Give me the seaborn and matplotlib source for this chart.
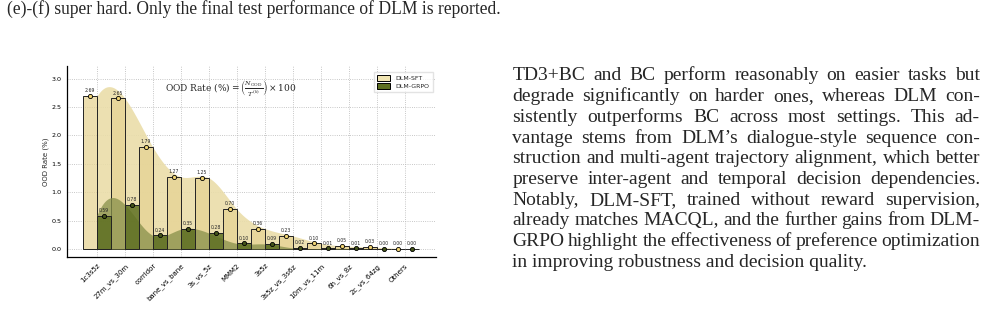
import numpy as np
import pandas as pd
import seaborn as sns
import matplotlib.pyplot as plt
from matplotlib.patches import Patch

tasks = ['1c3s5z', '27m_vs_30m', 'corridor', 'bane_vs_bane', '3s_vs_5z', 'MMM2',
         '3s5z', '3s5z_vs_3s6z', '10m_vs_11m', '6h_vs_8z', '2c_vs_64zg', 'Others']
sft = [2.69, 2.65, 1.79, 1.27, 1.25, 0.70, 0.36, 0.23, 0.10, 0.05, 0.03, 0.00]
grpo = [0.59, 0.78, 0.24, 0.35, 0.28, 0.10, 0.09, 0.02, 0.01, 0.01, 0.00, 0.00]

caption = "(e)-(f) super hard. Only the final test performance of DLM is reported."
para = [
    "TD3+BC and BC perform reasonably on easier tasks but",
    "degrade significantly on harder ones, whereas DLM con-",
    "sistently outperforms BC across most settings.  This ad-",
    "vantage stems from DLM\u2019s dialogue-style sequence con-",
    "struction and multi-agent trajectory alignment, which better",
    "preserve inter-agent and temporal decision dependencies.",
    "Notably, DLM-SFT, trained without reward supervision,",
    "already matches MACQL, and the further gains from DLM-",
    "GRPO highlight the effectiveness of preference optimization",
    "in improving robustness and decision quality.",
]

df = pd.DataFrame({
    'task': tasks * 2,
    'rate': sft + grpo,
    'model': ['DLM-SFT'] * len(tasks) + ['DLM-GRPO'] * len(tasks),
})

SFT_BAR = '#E6D394'
GRPO_BAR = '#5E6F22'


def smooth(x, y, xs):
    # cubic spline through the points, not-a-knot ends
    x = np.asarray(x, float); y = np.asarray(y, float)
    n = len(x); h = np.diff(x)
    A = np.zeros((n, n)); b = np.zeros(n)
    A[0, :3] = [-h[1], h[0] + h[1], -h[0]]
    A[-1, -3:] = [-h[-1], h[-2] + h[-1], -h[-2]]
    for i in range(1, n - 1):
        A[i, i - 1] = h[i - 1]
        A[i, i] = 2 * (h[i - 1] + h[i])
        A[i, i + 1] = h[i]
        b[i] = 3 * ((y[i + 1] - y[i]) / h[i] - (y[i] - y[i - 1]) / h[i - 1])
    c = np.linalg.solve(A, b)
    bc = (y[1:] - y[:-1]) / h - h * (2 * c[:-1] + c[1:]) / 3
    d = (c[1:] - c[:-1]) / (3 * h)
    k = np.clip(np.searchsorted(x, xs) - 1, 0, n - 2)
    dx = xs - x[k]
    return y[k] + bc[k] * dx + c[k] * dx ** 2 + d[k] * dx ** 3


sns.set_style('white')
plt.rcParams['font.family'] = ['DejaVu Sans']

W, H = 988, 309
fig = plt.figure(figsize=(W / 100, H / 100), dpi=100)
ax = fig.add_axes([66.7 / W, 1 - 257 / H, (435.7 - 66.7) / W, (257 - 66) / H])

pos = np.arange(len(tasks))
xs = np.linspace(pos[0], pos[-1], 500)
ax.fill_between(xs, 0, np.clip(smooth(pos, sft, xs), 0, None),
                color='#EADDA9', alpha=0.9, lw=0, zorder=1)
ax.fill_between(xs, 0, np.clip(smooth(pos, grpo, xs), 0, None),
                color='#87904A', alpha=0.75, lw=0, zorder=2.5)

sns.barplot(data=df, x='task', y='rate', hue='model', ax=ax, width=1.0,
            palette=[SFT_BAR, GRPO_BAR], saturation=1, errorbar=None,
            edgecolor='#222222', linewidth=0.7, legend=False)
for i, p in enumerate(ax.patches):
    fc = p.get_facecolor()
    if i < len(tasks):
        p.set_facecolor((fc[0], fc[1], fc[2], 0.75))
        p.set_zorder(2)
    else:
        p.set_facecolor((fc[0], fc[1], fc[2], 0.85))
        p.set_zorder(3)

ax.scatter(pos - 0.25, sft, s=9, facecolor='#F1D574', edgecolor='black', lw=0.6, zorder=4)
ax.scatter(pos + 0.25, grpo, s=9, facecolor='#44541A', edgecolor='black', lw=0.6, zorder=4)
for xi, v in zip(pos - 0.25, sft):
    ax.text(xi, v + 0.05, f'{v:.2f}', ha='center', va='bottom', fontsize=3.3, zorder=5)
for xi, v in zip(pos + 0.25, grpo):
    ax.text(xi, v + 0.05, f'{v:.2f}', ha='center', va='bottom', fontsize=3.3, zorder=5)

ax.set_xlim(-1.08, 12.1)
ax.set_ylim(-0.14, 3.22)
ax.set_yticks(np.arange(0, 3.01, 0.5))
ax.set_yticklabels([f'{v:.1f}' for v in np.arange(0, 3.01, 0.5)], fontsize=4.6)
ax.set_xticks(pos)
ax.set_xticklabels(tasks, rotation=45, ha='right', rotation_mode='anchor', fontsize=5)
ax.set_xlabel('')
ax.set_ylabel('OOD Rate (%)', fontsize=5, labelpad=1.5)
ax.tick_params(axis='both', direction='out', length=2.5, width=0.7, pad=1.5, colors='black')
ax.grid(True, ls=':', color='#b5b5b5', lw=0.6, zorder=0)
ax.set_axisbelow(True)
sns.despine(ax=ax)
for s in ['left', 'bottom']:
    ax.spines[s].set_linewidth(0.9)
    ax.spines[s].set_color('black')

ax.text(0.445, 0.885, r'$\mathrm{OOD\ Rate\ (\%)} = \left(\frac{N_{\mathrm{OOD}}}{T^{(k)}}\right)\times 100$',
        transform=ax.transAxes, ha='center', va='center', fontsize=6.5,
        math_fontfamily='dejavuserif')

handles = [Patch(facecolor='#F0E4B2', edgecolor='black', lw=0.7, label='DLM-SFT'),
           Patch(facecolor=GRPO_BAR, edgecolor='black', lw=0.7, label='DLM-GRPO')]
ax.legend(handles=handles, loc='upper right', bbox_to_anchor=(1.0, 0.985), fontsize=4.5,
          frameon=True, fancybox=False, edgecolor='#dddddd', handlelength=2.2,
          handleheight=1.0, labelspacing=0.35, borderpad=0.5)

# page text around the figure
serif = ['Liberation Serif', 'DejaVu Serif']
renderer = fig.canvas.get_renderer()
x0, x1 = 512.5, 980.0

# pick the font size so the tightest justified line keeps a normal word space
probe = fig.text(0, 0, 'x', fontsize=10, family=serif)
sizes = []
for line in para[:-1]:
    words = line.split()
    tot = 0
    for w in words:
        probe.set_text(w)
        tot += probe.get_window_extent(renderer).width
    sizes.append((x1 - x0) / (tot / 10 + 0.2 * (len(words) - 1) * 100 / 72))
probe.remove()
FS = min(sizes)

fig.text(7 / W, 1 - 14 / H, caption, ha='left', va='baseline', fontsize=FS * 0.9, family=serif)

for li, line in enumerate(para):
    y = 1 - (80.5 + li * 20.7) / H
    words = line.split()
    if li == len(para) - 1:
        fig.text(x0 / W, y, line, ha='left', va='baseline', fontsize=FS, family=serif)
        continue
    objs = [fig.text(0, y, w, ha='left', va='baseline', fontsize=FS, family=serif) for w in words]
    widths = [o.get_window_extent(renderer).width for o in objs]
    gap = (x1 - x0 - sum(widths)) / (len(words) - 1)
    cx = x0
    for o, w in zip(objs, widths):
        o.set_x(cx / W)
        cx += w + gap

fig.savefig('out.png', dpi=100)
